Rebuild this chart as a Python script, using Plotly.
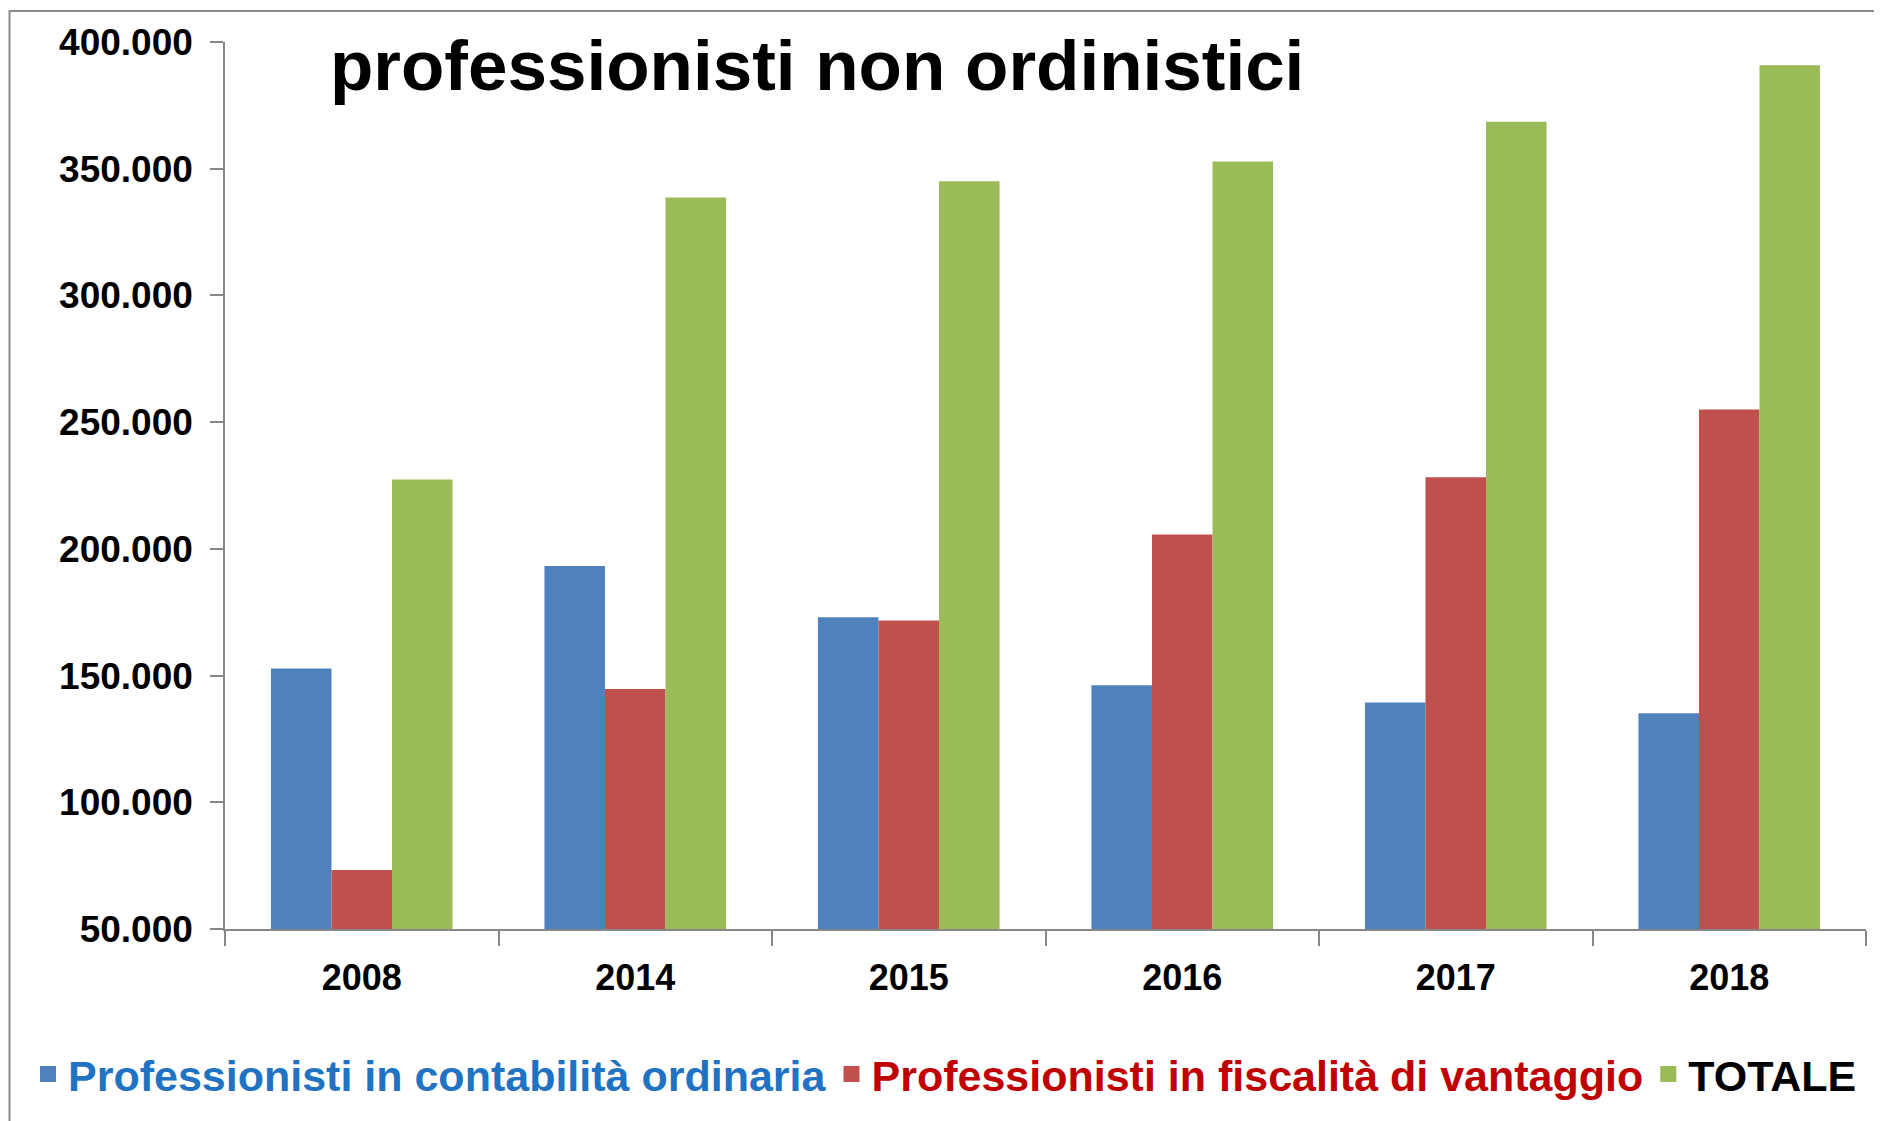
import plotly.graph_objects as go

categories = ["2008", "2014", "2015", "2016", "2017", "2018"]
contabilita_ordinaria = [152800, 193200, 173000, 146200, 139400, 135100]
fiscalita_vantaggio = [73300, 144700, 171700, 205700, 228300, 255000]
totale = [227400, 338600, 345100, 352800, 368500, 390800]

series_names = [
    "Professionisti in contabilità ordinaria",
    "Professionisti in fiscalità di vantaggio",
    "TOTALE",
]
bar_colors = ["#4F81BD", "#C0504D", "#9BBB59"]
text_colors = ["#1F73C2", "#C00000", "#000000"]
y_ticks = [50000, 100000, 150000, 200000, 250000, 300000, 350000, 400000]

FONT = "Liberation Sans, Arial, sans-serif"

fig = go.Figure()
for name, vals, col in zip(series_names, [contabilita_ordinaria, fiscalita_vantaggio, totale], bar_colors):
    fig.add_trace(go.Bar(x=categories, y=vals, name=name, marker=dict(color=col, line=dict(width=0)),
                         showlegend=False))

# legend entries (larger square swatches)
for name, col, tcol in zip(series_names, bar_colors, text_colors):
    fig.add_trace(go.Scatter(x=[None], y=[None], mode="markers", name=f"<span style='color:{tcol}'>{name}</span>",
                             marker=dict(symbol="square", size=22, color=col, line=dict(width=0)),
                             showlegend=True))

OFF = 8  # page body margin
W, H = 1882, 1121
L = 225 - OFF
T = 42 - OFF
R = W - (1866 - OFF)
B = H - (929 - OFF)
pw = W - L - R
ph = H - T - B

def px_x(x):
    return (x - OFF - L) / pw

def px_y(y):
    return (H - B - (y - OFF)) / ph

fig.update_layout(
    width=W, height=H,
    margin=dict(l=L, r=R, t=T, b=B, autoexpand=False),
    paper_bgcolor="white", plot_bgcolor="white",
    barmode="group", bargap=0.336, bargroupgap=0,
    separators=",.",
    font=dict(family=FONT, color="black"),
    xaxis=dict(
        type="category", showline=True, linecolor="#878787", linewidth=1.5,
        ticks="outside", tickson="boundaries", ticklen=15, tickcolor="#878787", tickwidth=1.5,
        tickfont=dict(family=FONT, size=36, color="black", weight="bold"),
        showgrid=False, zeroline=False, ticklabelstandoff=16,
    ),
    yaxis=dict(
        range=[50000, 400000], tickvals=y_ticks, tickformat=",d",
        showline=True, linecolor="#878787", linewidth=1.5,
        ticks="outside", ticklen=13, tickcolor="#878787", tickwidth=1.5,
        tickfont=dict(family=FONT, size=37, color="black", weight="bold"),
        showgrid=False, zeroline=False, ticklabelstandoff=10,
    ),
    legend=dict(
        orientation="h", x=px_x(28), xanchor="left", y=px_y(1074), yanchor="middle",
        font=dict(family=FONT, size=43, weight="bold"),
        bgcolor="rgba(0,0,0,0)", itemwidth=30, tracegroupgap=0, itemsizing="trace",
    ),
    annotations=[dict(
        text="<b>professionisti non ordinistici</b>", xref="paper", yref="paper",
        x=px_x(328), y=px_y(65), xanchor="left", yanchor="middle", showarrow=False,
        font=dict(family=FONT, size=71, color="black"),
    )],
    shapes=[dict(
        type="rect", xref="paper", yref="paper",
        x0=px_x(9.5), x1=px_x(1877), y0=px_y(1140), y1=px_y(11),
        line=dict(color="#8C8C8C", width=2), fillcolor="rgba(0,0,0,0)", layer="below",
    )],
)

fig.write_html("out.html")
